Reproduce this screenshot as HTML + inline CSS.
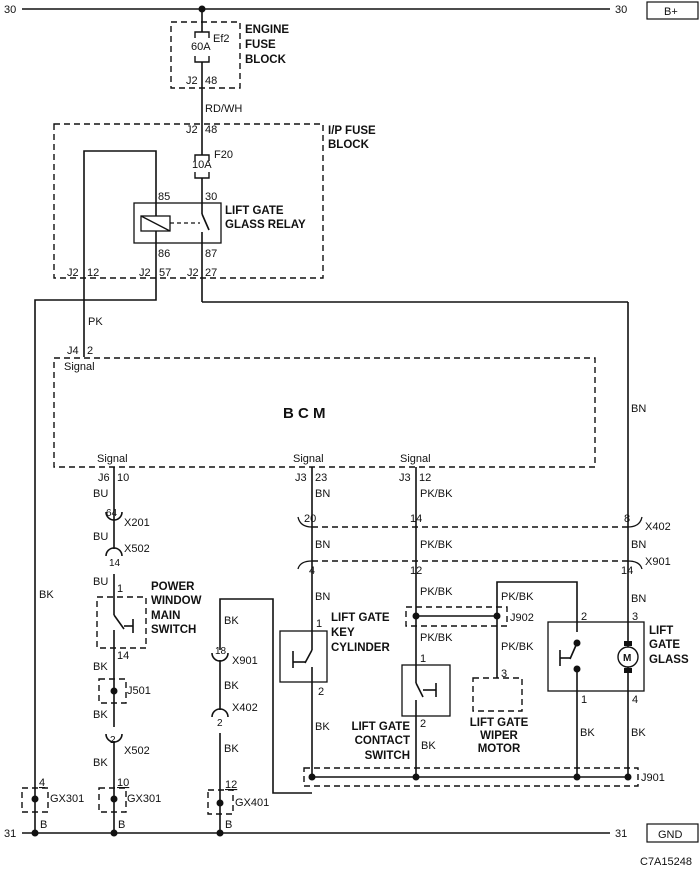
<!DOCTYPE html>
<html><head><meta charset="utf-8"><style>
html,body{margin:0;padding:0;background:#fff}
svg{display:block}
text{font-family:"Liberation Sans",Arial,sans-serif;font-size:11px;fill:#111}
.b{font-weight:bold;font-size:11.5px}
</style></head><body>
<svg width="700" height="871" viewBox="0 0 700 871" xmlns="http://www.w3.org/2000/svg">
<g stroke="#111" stroke-width="1.6" fill="none">
<line x1="22" y1="9" x2="610" y2="9"/>
<rect x="647" y="2" width="51" height="17" stroke-width="1.2"/>
<line x1="22" y1="833" x2="610" y2="833"/>
<rect x="647" y="824" width="51" height="18" stroke-width="1.2"/>
<line x1="202" y1="9" x2="202" y2="32"/>
<path d="M195 38 V32 H209 V38 M195 56 V62 H209 V56" stroke-width="1.4"/>
<line x1="202" y1="62" x2="202" y2="155"/>
<path d="M195 161 V155 H209 V161 M195 172 V178 H209 V172" stroke-width="1.4"/>
<line x1="202" y1="178" x2="202" y2="214"/>
<line x1="202" y1="214" x2="209" y2="230"/>
<line x1="202" y1="232" x2="202" y2="302"/>
<line x1="202" y1="302" x2="628" y2="302"/>
<line x1="628" y1="302" x2="628" y2="527"/>
<rect x="134" y="203" width="87" height="40" stroke-width="1.3"/>
<rect x="141" y="216" width="29" height="15" stroke-width="1.3"/>
<line x1="141" y1="216" x2="170" y2="231" stroke-width="1.3"/>
<line x1="170" y1="223" x2="200" y2="223" stroke-dasharray="4,3" stroke-width="1.3"/>
<path d="M84 357 V151 H156 V216"/>
<path d="M156 231 V300 H35 V833"/>
<g stroke-dasharray="6,4" stroke-width="1.4">
<rect x="171" y="22" width="69" height="66"/>
<rect x="54" y="124" width="269" height="154"/>
<rect x="54" y="358" width="541" height="109"/>
<rect x="97" y="597" width="49" height="51"/>
<rect x="99" y="679" width="27" height="24"/>
<rect x="22" y="788" width="26" height="24"/>
<rect x="99" y="788" width="27" height="24"/>
<rect x="208" y="790" width="25" height="24"/>
<rect x="406" y="607" width="101" height="19"/>
<rect x="473" y="678" width="49" height="33"/>
<rect x="304" y="768" width="334" height="18"/>
<line x1="312" y1="527" x2="628" y2="527"/>
<line x1="312" y1="561" x2="628" y2="561"/>
</g>
<line x1="114" y1="467" x2="114" y2="519"/>
<path d="M106 512 A8 8 0 0 0 122 512"/>
<line x1="114" y1="519" x2="114" y2="549"/>
<path d="M106 556 A8 8 0 0 1 122 556"/>
<line x1="114" y1="574" x2="114" y2="615"/>
<line x1="114" y1="615" x2="124" y2="629"/>
<line x1="124" y1="626" x2="133" y2="626"/>
<line x1="133" y1="619" x2="133" y2="633"/>
<line x1="114" y1="630" x2="114" y2="727"/>
<path d="M106 734 A8 8 0 0 0 122 734"/>
<line x1="114" y1="741" x2="114" y2="833"/>
<path d="M220 650 V599 H273 V793 H312"/>
<path d="M212 653 A8 8 0 0 0 228 653"/>
<line x1="220" y1="660" x2="220" y2="710"/>
<path d="M212 717 A8 8 0 0 1 228 717"/>
<line x1="220" y1="733" x2="220" y2="833"/>
<!-- connector end arcs -->
<path d="M298 517 Q300 527 312 527" stroke-width="1.3"/>
<path d="M628 527 Q640 527 642 517" stroke-width="1.3"/>
<path d="M298 569 Q300 561 312 561" stroke-width="1.3"/>
<path d="M628 561 Q640 561 642 569" stroke-width="1.3"/>
<line x1="312" y1="467" x2="312" y2="650"/>
<rect x="280" y="631" width="47" height="51" stroke-width="1.3"/>
<line x1="312" y1="650" x2="305" y2="663"/>
<line x1="293" y1="662" x2="305" y2="662"/>
<line x1="293" y1="651" x2="293" y2="668"/>
<line x1="312" y1="667" x2="312" y2="777"/>
<line x1="416" y1="467" x2="416" y2="683"/>
<rect x="402" y="665" width="48" height="51" stroke-width="1.3"/>
<line x1="416" y1="683" x2="423" y2="697"/>
<line x1="423" y1="690" x2="436" y2="690"/>
<line x1="436" y1="683" x2="436" y2="697"/>
<line x1="416" y1="700" x2="416" y2="777"/>
<line x1="416" y1="616" x2="497" y2="616"/>
<path d="M497 678 V582 H577 V632"/>
<line x1="628" y1="527" x2="628" y2="647"/>
<line x1="628" y1="667" x2="628" y2="777"/>
<rect x="548" y="622" width="96" height="69" stroke-width="1.3"/>
<line x1="577" y1="643" x2="570" y2="659"/>
<line x1="560" y1="658" x2="570" y2="658"/>
<line x1="560" y1="650" x2="560" y2="666"/>
<line x1="577" y1="669" x2="577" y2="777"/>
<circle cx="628" cy="657" r="10" stroke-width="1.4"/>
<line x1="312" y1="777" x2="628" y2="777"/>
</g>
<rect x="624" y="641" width="8" height="5" fill="#111"/>
<rect x="624" y="668" width="8" height="5" fill="#111"/>
<g fill="#111">
<circle cx="202" cy="9" r="3.5"/>
<circle cx="35" cy="833" r="3.5"/><circle cx="114" cy="833" r="3.5"/><circle cx="220" cy="833" r="3.5"/>
<circle cx="114" cy="691" r="3.5"/><circle cx="35" cy="799" r="3.5"/><circle cx="114" cy="799" r="3.5"/><circle cx="220" cy="803" r="3.5"/>
<circle cx="416" cy="616" r="3.5"/><circle cx="497" cy="616" r="3.5"/>
<circle cx="577" cy="643" r="3.5"/><circle cx="577" cy="669" r="3.5"/>
<circle cx="312" cy="777" r="3.5"/><circle cx="416" cy="777" r="3.5"/><circle cx="577" cy="777" r="3.5"/><circle cx="628" cy="777" r="3.5"/>
</g>
<text x="4" y="13">30</text><text x="615" y="13">30</text><text x="664" y="15">B+</text>
<text x="4" y="837">31</text><text x="615" y="837">31</text><text x="658" y="838">GND</text>
<text x="640" y="865">C7A15248</text>
<text x="191" y="50">60A</text><text x="213" y="42">Ef2</text>
<text class="b" x="245" y="33">ENGINE</text><text class="b" x="245" y="48">FUSE</text><text class="b" x="245" y="63">BLOCK</text>
<text x="186" y="84">J2</text><text x="205" y="84">48</text>
<text x="205" y="112">RD/WH</text>
<text x="186" y="133">J2</text><text x="205" y="133">48</text>
<text class="b" x="328" y="134">I/P FUSE</text><text class="b" x="328" y="148">BLOCK</text>
<text x="192" y="168">10A</text><text x="214" y="158">F20</text>
<text x="158" y="200">85</text><text x="205" y="200">30</text>
<text class="b" x="225" y="214">LIFT GATE</text><text class="b" x="225" y="228">GLASS RELAY</text>
<text x="158" y="257">86</text><text x="205" y="257">87</text>
<text x="67" y="276">J2</text><text x="87" y="276">12</text>
<text x="139" y="276">J2</text><text x="159" y="276">57</text>
<text x="187" y="276">J2</text><text x="205" y="276">27</text>
<text x="88" y="325">PK</text>
<text x="67" y="354">J4</text><text x="87" y="354">2</text>
<text x="64" y="370">Signal</text>
<text x="283" y="418" style="font-weight:bold;font-size:15px">B C M</text>
<text x="97" y="462">Signal</text><text x="293" y="462">Signal</text><text x="400" y="462">Signal</text>
<text x="98" y="481">J6</text><text x="117" y="481">10</text>
<text x="295" y="481">J3</text><text x="315" y="481">23</text>
<text x="399" y="481">J3</text><text x="419" y="481">12</text>
<text x="93" y="497">BU</text><text x="315" y="497">BN</text><text x="420" y="497">PK/BK</text>
<text x="631" y="412">BN</text>
<text x="106" y="516" style="font-size:10px">64</text><text x="124" y="526">X201</text>
<text x="93" y="540">BU</text><text x="124" y="552">X502</text>
<text x="109" y="566" style="font-size:10px">14</text>
<text x="93" y="585">BU</text><text x="117" y="592">1</text>
<text class="b" x="151" y="590">POWER</text><text class="b" x="151" y="604">WINDOW</text><text class="b" x="151" y="619">MAIN</text><text class="b" x="151" y="633">SWITCH</text>
<text x="117" y="659">14</text><text x="93" y="670">BK</text><text x="127" y="694">J501</text>
<text x="93" y="718">BK</text><text x="110" y="743" style="font-size:10px">2</text><text x="124" y="754">X502</text>
<text x="93" y="766">BK</text><text x="117" y="786" text-decoration="underline">10</text>
<text x="127" y="802">GX301</text><text x="118" y="828">B</text>
<text x="39" y="598">BK</text><text x="39" y="786" text-decoration="underline">4</text>
<text x="50" y="802">GX301</text><text x="40" y="828">B</text>
<text x="224" y="624">BK</text><text x="215" y="654" style="font-size:10px">18</text><text x="232" y="664">X901</text>
<text x="224" y="689">BK</text><text x="232" y="711">X402</text><text x="217" y="726" style="font-size:10px">2</text>
<text x="224" y="752">BK</text><text x="225" y="788" text-decoration="underline">12</text>
<text x="235" y="806">GX401</text><text x="225" y="828">B</text>
<text x="304" y="522">20</text><text x="410" y="522">14</text><text x="624" y="522">8</text><text x="645" y="530">X402</text>
<text x="315" y="548">BN</text><text x="420" y="548">PK/BK</text><text x="631" y="548">BN</text>
<text x="309" y="574">4</text><text x="410" y="574">12</text><text x="621" y="574">14</text><text x="645" y="565">X901</text>
<text x="315" y="600">BN</text><text x="420" y="595">PK/BK</text><text x="501" y="600">PK/BK</text><text x="631" y="602">BN</text>
<text x="316" y="627">1</text>
<text class="b" x="331" y="621">LIFT GATE</text><text class="b" x="331" y="636">KEY</text><text class="b" x="331" y="651">CYLINDER</text>
<text x="510" y="621">J902</text>
<text x="420" y="641">PK/BK</text><text x="501" y="650">PK/BK</text>
<text x="420" y="662">1</text><text x="501" y="677">3</text>
<text x="581" y="620">2</text><text x="632" y="620">3</text>
<text class="b" x="649" y="634">LIFT</text><text class="b" x="649" y="648">GATE</text><text class="b" x="649" y="663">GLASS</text>
<text x="623" y="661" style="font-weight:bold;font-size:10px">M</text>
<text x="318" y="695">2</text><text x="581" y="703">1</text><text x="632" y="703">4</text>
<text x="420" y="727">2</text>
<text class="b" x="410" y="730" text-anchor="end">LIFT GATE</text><text class="b" x="410" y="744" text-anchor="end">CONTACT</text><text class="b" x="410" y="759" text-anchor="end">SWITCH</text>
<text class="b" x="499" y="726" text-anchor="middle">LIFT GATE</text><text class="b" x="499" y="739" text-anchor="middle">WIPER</text><text class="b" x="499" y="752" text-anchor="middle">MOTOR</text>
<text x="315" y="730">BK</text><text x="421" y="749">BK</text><text x="580" y="736">BK</text><text x="631" y="736">BK</text>
<text x="641" y="781">J901</text>
</svg>
</body></html>
